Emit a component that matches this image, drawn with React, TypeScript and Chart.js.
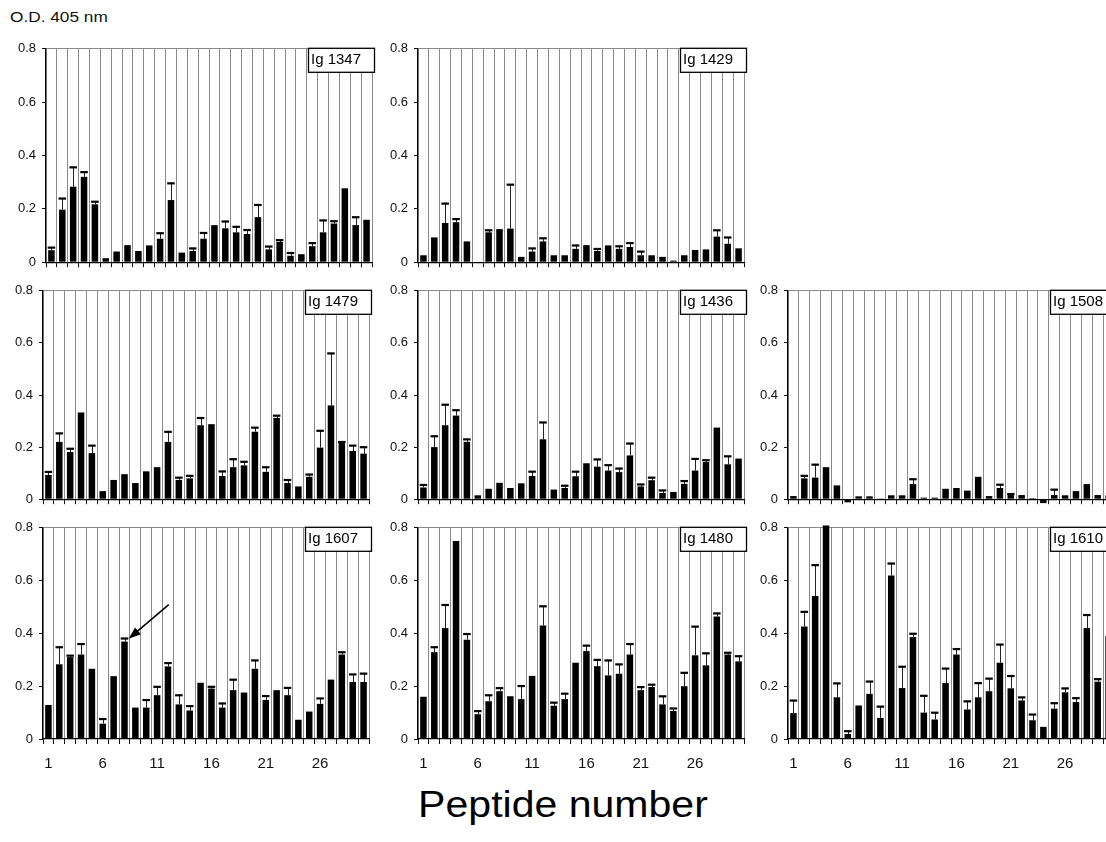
import React, { useEffect, useRef } from "react";
import { Chart, registerables } from "chart.js";

Chart.register(...registerables);

// ---------- data ----------
const PEPTIDES = ["1","2","3","4","5","6","7","8","9","10","11","12","13","14","15","16","17","18","19","20","21","22","23","24","25","26","27","28","29","30"];
const X_TICK_LABELS = ["1", "6", "11", "16", "21", "26"];
const Y_MIN = 0;
const Y_MAX = 0.8;
const Y_STEP = 0.2;

const IG1347_VALUES = [0.045,0.197,0.283,0.32,0.217,0.015,0.04,0.064,0.042,0.063,0.088,0.233,0.036,0.042,0.088,0.139,0.127,0.112,0.106,0.169,0.048,0.076,0.024,0.03,0.06,0.112,0.145,0.277,0.139,0.159];
const IG1347_ERRORS = [0.01,0.042,0.073,0.018,0.01,0,0,0,0,0,0.021,0.063,0,0.01,0.022,0,0.026,0.021,0.015,0.046,0.011,0.007,0.011,0,0.012,0.045,0.009,0,0.03,0];

const IG1429_VALUES = [0.026,0.093,0.147,0.15,0.078,0.002,0.112,0.124,0.126,0.02,0.04,0.078,0.026,0.026,0.05,0.064,0.042,0.063,0.05,0.057,0.026,0.026,0.02,0.006,0.026,0.046,0.048,0.096,0.069,0.052];
const IG1429_ERRORS = [0,0,0.073,0.012,0,0,0.008,0,0.165,0,0.012,0.012,0,0,0.013,0,0.008,0,0.01,0.015,0.014,0,0,0,0,0,0,0.024,0.024,0];

const IG1479_VALUES = [0.093,0.22,0.181,0.333,0.177,0.031,0.074,0.096,0.062,0.107,0.123,0.22,0.074,0.08,0.284,0.288,0.089,0.123,0.13,0.259,0.105,0.312,0.062,0.049,0.086,0.198,0.36,0.216,0.185,0.175];
const IG1479_ERRORS = [0.012,0.033,0.013,0,0.029,0,0,0,0,0,0,0.039,0.009,0.01,0.028,0,0.018,0.031,0.014,0.016,0.018,0.009,0.012,0,0.009,0.065,0.2,0.004,0.021,0.025];

const IG1436_VALUES = [0.045,0.2,0.284,0.321,0.22,0.015,0.04,0.063,0.043,0.061,0.089,0.23,0.037,0.043,0.088,0.138,0.125,0.11,0.104,0.168,0.049,0.073,0.024,0.028,0.059,0.11,0.143,0.275,0.134,0.156];
const IG1436_ERRORS = [0.01,0.042,0.079,0.021,0.01,0,0,0,0,0,0.017,0.065,0,0.009,0.018,0,0.028,0.021,0.014,0.046,0.008,0.01,0.01,0,0.011,0.045,0.007,0,0.031,0];

const IG1508_VALUES = [0.012,0.08,0.083,0.123,0.053,-0.012,0.011,0.011,0.003,0.015,0.015,0.058,0.006,0.006,0.04,0.043,0.033,0.086,0.012,0.043,0.016,0.016,0.004,-0.015,0.016,0.015,0.031,0.058,0.016,0.015];
const IG1508_ERRORS = [0,0.01,0.05,0,0,0,0,0,0,0,0,0.019,0,0,0,0,0,0,0,0.013,0.004,0,0,0,0.021,0,0,0,0,0];

const IG1607_VALUES = [0.129,0.283,0.31,0.32,0.266,0.058,0.238,0.369,0.119,0.119,0.166,0.275,0.131,0.108,0.213,0.191,0.119,0.185,0.176,0.266,0.148,0.185,0.166,0.073,0.104,0.133,0.225,0.32,0.216,0.216];
const IG1607_ERRORS = [0,0.065,0.006,0.04,0,0.018,0,0.012,0,0.029,0.032,0.013,0.035,0.017,0,0.007,0.016,0.04,0,0.032,0.015,0,0.028,0,0,0.021,0,0.009,0.029,0.032];

const IG1480_VALUES = [0.16,0.329,0.42,0.75,0.376,0.094,0.143,0.181,0.162,0.151,0.239,0.43,0.126,0.151,0.289,0.333,0.276,0.241,0.247,0.32,0.185,0.197,0.131,0.106,0.2,0.317,0.279,0.464,0.32,0.294];
const IG1480_ERRORS = [0,0.019,0.088,0,0.022,0.012,0.023,0.012,0,0.05,0,0.073,0.012,0.021,0,0.021,0.024,0.057,0.036,0.04,0.012,0.009,0.031,0.01,0.051,0.109,0.046,0.012,0.007,0.02];

const IG1610_VALUES = [0.098,0.426,0.542,0.809,0.158,0.019,0.127,0.171,0.08,0.619,0.193,0.386,0.1,0.074,0.212,0.32,0.112,0.158,0.181,0.289,0.192,0.146,0.071,0.046,0.115,0.177,0.14,0.42,0.217,0.39];
const IG1610_ERRORS = [0.048,0.056,0.117,0,0.053,0.011,0,0.047,0.043,0.046,0.081,0.013,0.064,0.026,0.055,0.021,0.031,0.054,0.048,0.069,0.047,0.012,0.022,0,0.021,0.015,0.015,0.05,0.01,0];

// arrow annotation in Ig 1607 points at peptide 8
const ARROW_PEPTIDE_INDEX = 7;
const ARROW_VALUE = 0.38;

// ---------- layout (positions only) ----------
const FONT = "'Liberation Sans', Arial, Helvetica, sans-serif";
const PLOT_W = 326;
const PAD_LEFT = 50;
const PAD_TOP = 12;
const PAD_RIGHT = 12;

const PANELS = [
  { label: "Ig 1347", values: IG1347_VALUES, errors: IG1347_ERRORS, left: 46, top: 47, height: 221, showX: false },
  { label: "Ig 1429", values: IG1429_VALUES, errors: IG1429_ERRORS, left: 418, top: 47, height: 221, showX: false },
  { label: "Ig 1479", values: IG1479_VALUES, errors: IG1479_ERRORS, left: 43, top: 289, height: 216, showX: false },
  { label: "Ig 1436", values: IG1436_VALUES, errors: IG1436_ERRORS, left: 418, top: 289, height: 216, showX: false },
  { label: "Ig 1508", values: IG1508_VALUES, errors: IG1508_ERRORS, left: 788, top: 289, height: 216, showX: false },
  { label: "Ig 1607", values: IG1607_VALUES, errors: IG1607_ERRORS, left: 43, top: 526, height: 213, showX: true, arrow: true },
  { label: "Ig 1480", values: IG1480_VALUES, errors: IG1480_ERRORS, left: 418, top: 526, height: 213, showX: true },
  { label: "Ig 1610", values: IG1610_VALUES, errors: IG1610_ERRORS, left: 788, top: 526, height: 213, showX: true },
];

// ---------- plugins ----------
const errorBarsPlugin = {
  id: "errbars",
  afterDatasetsDraw(chart: any, _args: any, opts: any) {
    const errs: number[] = opts && opts.errors ? opts.errors : [];
    const vals: number[] = chart.data.datasets[0].data;
    const meta = chart.getDatasetMeta(0);
    const y = chart.scales.y;
    const ctx = chart.ctx;
    ctx.save();
    meta.data.forEach((el: any, i: number) => {
      const e = errs[i];
      if (!e) return;
      const top = y.getPixelForValue(vals[i] + e);
      const bar = el.y;
      const w = el.width;
      ctx.strokeStyle = "#222";
      ctx.lineWidth = 1;
      ctx.beginPath();
      ctx.moveTo(Math.round(el.x) + 0.5, bar);
      ctx.lineTo(Math.round(el.x) + 0.5, top);
      ctx.stroke();
      ctx.fillStyle = "#000";
      ctx.fillRect(el.x - w / 2 - 0.5, top - 1, w + 1, 2.2);
    });
    ctx.restore();
  },
};

const panelLabelPlugin = {
  id: "panelLabel",
  afterDraw(chart: any, _args: any, opts: any) {
    if (!opts || !opts.text) return;
    const a = chart.chartArea;
    const ctx = chart.ctx;
    const w = 66;
    const h = 24;
    const x = a.right - 64;
    const yTop = a.top - 1;
    ctx.save();
    ctx.fillStyle = "#fff";
    ctx.fillRect(x, yTop, w, h);
    ctx.strokeStyle = "#000";
    ctx.lineWidth = 1.3;
    ctx.strokeRect(x + 0.5, yTop + 0.5, w, h);
    ctx.fillStyle = "#000";
    ctx.font = `15px ${FONT}`;
    ctx.textBaseline = "alphabetic";
    ctx.textAlign = "left";
    ctx.fillText(opts.text, x + 3, yTop + 16);
    ctx.restore();
  },
};

const arrowPlugin = {
  id: "arrow",
  afterDraw(chart: any, _args: any, opts: any) {
    if (!opts || !opts.show) return;
    const xs = chart.scales.x;
    const ys = chart.scales.y;
    const meta = chart.getDatasetMeta(0);
    const el = meta.data[opts.index];
    const tipX = xs.getPixelForValue(opts.index) + (el ? el.width / 2 : 3) + 1;
    const tipY = ys.getPixelForValue(opts.value);
    const tailX = tipX + 40;
    const tailY = tipY - 34;
    const ctx = chart.ctx;
    const ang = Math.atan2(tipY - tailY, tipX - tailX);
    const hl = 12;
    const hw = 4.5;
    ctx.save();
    ctx.strokeStyle = "#000";
    ctx.fillStyle = "#000";
    ctx.lineWidth = 1.6;
    ctx.beginPath();
    ctx.moveTo(tailX, tailY);
    ctx.lineTo(tipX - Math.cos(ang) * hl * 0.8, tipY - Math.sin(ang) * hl * 0.8);
    ctx.stroke();
    const bx = tipX - Math.cos(ang) * hl;
    const by = tipY - Math.sin(ang) * hl;
    ctx.beginPath();
    ctx.moveTo(tipX, tipY);
    ctx.lineTo(bx + Math.sin(ang) * hw, by - Math.cos(ang) * hw);
    ctx.lineTo(bx - Math.sin(ang) * hw, by + Math.cos(ang) * hw);
    ctx.closePath();
    ctx.fill();
    ctx.restore();
  },
};

type PanelProps = {
  label: string;
  values: number[];
  errors: number[];
  left: number;
  top: number;
  height: number;
  showX: boolean;
  arrow?: boolean;
};

function Panel(p: PanelProps) {
  const ref = useRef<HTMLCanvasElement | null>(null);
  const bottomSpace = p.showX ? 44 : 8;
  const cw = PAD_LEFT + PLOT_W + PAD_RIGHT;
  const ch = PAD_TOP + p.height + bottomSpace;

  useEffect(() => {
    if (!ref.current) return;
    const chart = new Chart(ref.current, {
      type: "bar",
      data: {
        labels: PEPTIDES,
        datasets: [
          {
            data: p.values,
            backgroundColor: "#000",
            borderWidth: 0,
            barPercentage: 0.6,
            categoryPercentage: 1,
            clip: false as any,
          },
        ],
      },
      plugins: [errorBarsPlugin, panelLabelPlugin, arrowPlugin],
      options: {
        animation: false,
        responsive: false,
        devicePixelRatio: 1,
        layout: { padding: { left: 0, top: PAD_TOP, right: PAD_RIGHT, bottom: 0 } },
        events: [],
        plugins: {
          legend: { display: false },
          tooltip: { enabled: false },
          errbars: { errors: p.errors },
          panelLabel: { text: p.label },
          arrow: { show: !!p.arrow, index: ARROW_PEPTIDE_INDEX, value: ARROW_VALUE },
        } as any,
        scales: {
          x: {
            offset: true,
            grid: {
              offset: true,
              color: "#8a8a8a",
              lineWidth: 1,
              drawTicks: true,
              tickLength: 5,
              tickColor: "#111",
            },
            border: { display: true, color: "#000", width: 1.2 },
            ticks: {
              display: p.showX,
              autoSkip: false,
              maxRotation: 0,
              minRotation: 0,
              padding: 11,
              color: "#111",
              font: { family: FONT, size: 15 },
              callback: (_v: any, i: number) =>
                X_TICK_LABELS.includes(PEPTIDES[i]) ? PEPTIDES[i] : "",
            },
            afterFit: (s: any) => {
              s.height = bottomSpace;
            },
          },
          y: {
            min: Y_MIN,
            max: Y_MAX,
            grid: {
              color: (c: any) =>
                c.tick && c.tick.value >= Y_MAX - 1e-6 ? "#8a8a8a" : "rgba(0,0,0,0)",
              tickColor: "#111",
              tickLength: 4,
              drawTicks: true,
            },
            border: { display: true, color: "#000", width: 1.2 },
            ticks: {
              stepSize: Y_STEP,
              padding: 6,
              color: "#111",
              font: { family: FONT, size: 13 },
            },
            afterFit: (s: any) => {
              s.width = PAD_LEFT;
            },
          },
        },
      } as any,
    });
    return () => chart.destroy();
  }, []);

  return (
    <canvas
      ref={ref}
      width={cw}
      height={ch}
      style={{
        position: "absolute",
        left: p.left - PAD_LEFT,
        top: p.top - PAD_TOP,
        width: cw,
        height: ch,
      }}
    />
  );
}

export default function App() {
  return (
    <div
      style={{
        position: "absolute",
        left: 0,
        top: 0,
        width: 1106,
        height: 842,
        overflow: "hidden",
        background: "#fff",
        fontFamily: FONT,
      }}
    >
      <div
        style={{
          position: "absolute",
          left: 10,
          top: 9,
          fontSize: 15,
          lineHeight: "15px",
          color: "#111",
          whiteSpace: "nowrap",
          transform: "scaleX(1.15)",
          transformOrigin: "left top",
        }}
      >
        O.D. 405 nm
      </div>
      {PANELS.map((p) => (
        <Panel key={p.label} {...p} />
      ))}
      <div
        style={{
          position: "absolute",
          left: 363,
          width: 400,
          top: 787,
          textAlign: "center",
          fontSize: 36,
          lineHeight: "36px",
          color: "#000",
          whiteSpace: "nowrap",
          transform: "scaleX(1.14)",
          transformOrigin: "center top",
        }}
      >
        Peptide number
      </div>
    </div>
  );
}
